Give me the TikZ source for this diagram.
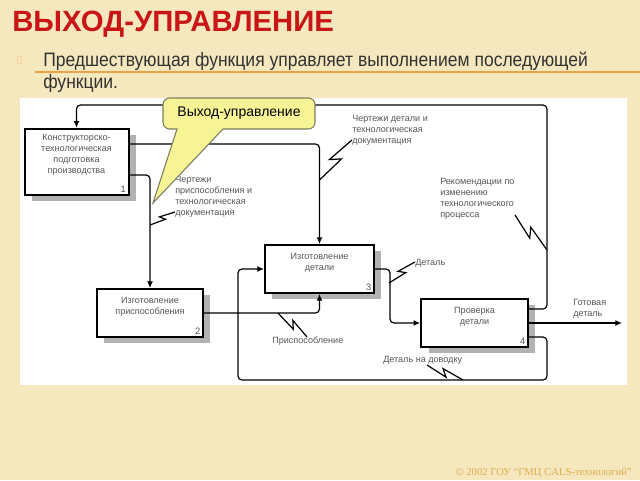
\documentclass[tikz,border=0pt]{standalone}
\usepackage{fontspec}
\setmainfont{Liberation Sans}
\newfontfamily\copyfont{Liberation Serif}
\newfontfamily\introfont[FakeStretch=0.9]{Liberation Sans}
\usetikzlibrary{arrows.meta,calc,shadows}

\definecolor{pagebg}{RGB}{246,232,190}
\definecolor{titlered}{RGB}{200,22,22}
\definecolor{rulecol}{RGB}{232,164,70}
\definecolor{bodytext}{RGB}{50,50,50}
\definecolor{calloutfill}{RGB}{247,244,150}
\definecolor{calloutline}{RGB}{125,125,95}
\definecolor{idefgray}{RGB}{85,85,85}
\definecolor{copycol}{RGB}{222,172,80}

\tikzset{
  func/.style={draw=black, line width=1.5pt, fill=white, minimum width=80pt, minimum height=36pt, inner sep=0pt,
    drop shadow={shadow xshift=5.5pt, shadow yshift=-4.5pt, fill=black!30, opacity=1},
    path picture={\fill (path picture bounding box.north west) -- ++(4pt,0) -- ++(-4pt,-4pt) -- cycle;}},
  functext/.style={align=center, text=idefgray, font=\fontsize{6.8}{8.3}\selectfont, inner sep=0pt},
  funcnum/.style={anchor=south east, text=idefgray, font=\fontsize{7}{8}\selectfont, inner sep=2.5pt},
  arrlabel/.style={anchor=north west, align=left, text=idefgray, font=\fontsize{6.8}{8.3}\selectfont, inner sep=0pt},
  conn/.style={line width=0.9pt, rounded corners=3pt, -{Latex[length=5pt,width=4.5pt]}},
  squiggle/.style={line width=0.9pt},
  callout/.style={fill=calloutfill, draw=calloutline, line width=0.8pt}
}

\newcommand{\squig}[2]{\draw[squiggle] (#1) -- ($(#1)!0.58!10:(#2)$) -- ($(#1)!0.42!-10:(#2)$) -- (#2);}

\begin{document}
\begin{tikzpicture}[x=0.75pt,y=0.75pt,yscale=-1,xscale=1]
\useasboundingbox (0,0) rectangle (640,480);

%Background
\fill[pagebg] (0,0) rectangle (640,480);
\fill[white] (20,98) rectangle (627,385);

% Title and text
\node[anchor=base west, inner sep=0pt, text=titlered, font=\bfseries\fontsize{22}{26}\selectfont] (title) at (12,31) {ВЫХОД-УПРАВЛЕНИЕ};
\node[draw=rulecol!50, minimum width=3pt, minimum height=5pt, inner sep=0pt] (bul) at (19,59.5) {};
\node[anchor=north west, align=left, inner sep=0pt, text=bodytext, font=\introfont\fontsize{14.6}{16}\selectfont] (intro) at (43,52) {Предшествующая функция управляет выполнением последующей\\функции.};
\draw[rulecol, line width=1.2pt] (35,72) -- (640,72);

% Functions
\node[func, minimum width=78pt, minimum height=50pt] (b1) at (76.5,162) {};
\node[func, minimum width=79.5pt] (b2) at (150,313) {};
\node[func, minimum width=81.75pt] (b3) at (319.5,269) {};
\node[func] (b4) at (474.5,323) {};

\node[functext] (b1t) at ($(b1)+(0,-7)$) {Конструкторско-\\технологическая\\подготовка\\производства};
\node[functext] (b2t) at ($(b2)+(0,-6.5)$) {Изготовление\\приспособления};
\node[functext] (b3t) at ($(b3)+(0,-6.5)$) {Изготовление\\детали};
\node[functext] (b4t) at ($(b4)+(0,-6.5)$) {Проверка\\детали};

\node[funcnum] (b1n) at (b1.south east) {1};
\node[funcnum] (b2n) at (b2.south east) {2};
\node[funcnum] (b3n) at (b3.south east) {3};
\node[funcnum] (b4n) at (b4.south east) {4};

% Arrows
\coordinate (fbtop) at (547,105);
\coordinate (loopR) at (547,380);
\coordinate (loopL) at (238,380);
\coordinate (out) at (622,323);

\draw[conn] ($(b4.east)+(0,-14)$) -| (fbtop) -| (b1.north);
\draw[conn] ($(b1.east)+(0,-18)$) -| (b3.north);
\draw[conn] ($(b1.east)+(0,13)$) -| (b2.north);
\draw[conn] (b2.east) -| (b3.south);
\draw[conn] (b3.east) -- ++(15,0) |- (b4.west);
\draw[conn] ($(b4.east)+(0,14)$) -| (loopR) -- (loopL) |- (b3.west);
\draw[conn] (b4.east) -- (out);

% Labels
\node[arrlabel] (l1) at (352,114.5) {Чертежи детали и\\технологическая\\документация};
\node[arrlabel] (l2) at (440,177.5) {Рекомендации по\\изменению\\технологического\\процесса};
\node[arrlabel] (l3) at (175,175.5) {Чертежи\\приспособления и\\технологическая\\документация};
\node[arrlabel] (l4) at (415,258.5) {Деталь};
\node[arrlabel] (l5) at (272,336.5) {Приспособление};
\node[arrlabel] (l6) at (383,355.5) {Деталь на доводку};
\node[arrlabel] (l7) at (573,298.5) {Готовая\\деталь};

% Squiggles
\coordinate (s1a) at (352,140); \coordinate (s1b) at (319.5,180);
\coordinate (s2a) at (175,212); \coordinate (s2b) at (150,225);
\coordinate (s3a) at (515,215); \coordinate (s3b) at (547,250);
\coordinate (s4a) at (415,262); \coordinate (s4b) at (389,283);
\coordinate (s5a) at (307,337); \coordinate (s5b) at (278,313);
\coordinate (s6a) at (427,365); \coordinate (s6b) at (463,380);
\squig{s1a}{s1b}
\squig{s2a}{s2b}
\squig{s3a}{s3b}
\squig{s4a}{s4b}
\squig{s5a}{s5b}
\squig{s6a}{s6b}

% Callout
\filldraw[callout] (177,129) [rounded corners=5pt] -- (163,129) -- (163,98) -- (315,98) -- (315,129) [sharp corners] -- (223,129) -- (153,203) -- cycle;
\node[font=\fontsize{10.5}{12}\selectfont] (cl) at (239,113) {Выход-управление};

% Footer
\node[anchor=base east, inner sep=0pt, text=copycol, font=\copyfont\fontsize{8}{9}\selectfont] (copy) at (632,475) {© 2002 ГОУ “ГМЦ CALS-технологий”};

\end{tikzpicture}
\end{document}
